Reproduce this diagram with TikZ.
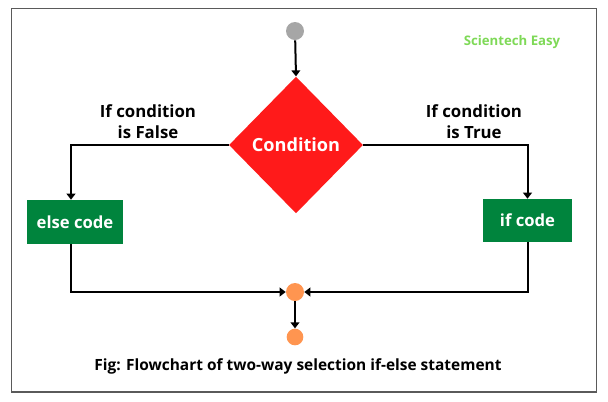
\documentclass[tikz,border=0pt]{standalone}
\usepackage{fontspec}
\setmainfont{Open Sans}
\usetikzlibrary{shapes.geometric,arrows.meta}
\definecolor{condred}{HTML}{FF1A1A}
\definecolor{boxgreen}{HTML}{00843D}
\definecolor{startgray}{HTML}{A6A6A6}
\definecolor{joinorange}{HTML}{FF9550}
\definecolor{brandgreen}{HTML}{7ED957}
\definecolor{framegray}{HTML}{5A5A5A}
\tikzset{
  conn/.style={line width=1.5pt, black},
  arr/.style={conn, -{Triangle[length=4.5pt,width=6.5pt]}},
  codebox/.style={rectangle, fill=boxgreen, text=white, font=\bfseries\fontsize{12.5}{14}\selectfont, inner sep=0pt},
  lbl/.style={align=center, font=\bfseries\fontsize{12.6}{15.5}\selectfont, text=black},
  dot/.style={circle, inner sep=0pt},
}
\begin{document}
\begin{tikzpicture}[x=0.75pt,y=-0.75pt]
\useasboundingbox (0,0) rectangle (608,401);
\draw[framegray, line width=1pt] (11.5,8.5) rectangle (596.5,392);
\node[dot, fill=startgray, minimum size=13.5pt] (g) at (295,31) {};
\node[diamond, fill=condred, inner sep=0pt, minimum width=100.5pt, minimum height=102.5pt, text=white, font=\bfseries\fontsize{13.6}{15}\selectfont] (d) at (296,145) {Condition};
\node[codebox, minimum width=72pt, minimum height=33pt] (else) at (75,222) {else code};
\node[codebox, minimum width=66.75pt, minimum height=32.25pt] (if) at (527.5,220.5) {if code};
\node[dot, fill=joinorange, minimum size=13.5pt] (o1) at (295,292) {};
\node[dot, fill=joinorange, minimum size=12.5pt] (o2) at (295,337) {};
\node[lbl] (lf) at (148,121.5) {If condition\\is False};
\node[lbl] (lt) at (474,121.5) {If condition\\is True};
\node[font=\bfseries\fontsize{9.9}{11}\selectfont, text=brandgreen] (brand) at (512,42) {Scientech Easy};
\node[font=\bfseries\fontsize{11.6}{13}\selectfont, text=black] (cap) at (298,366) {Fig: Flowchart of two-way selection if-else statement};
\draw[arr] (g) -- (d.north);
\draw[arr] (d.west) -| ([xshift=-3pt]else.north);
\draw[arr] (d.east) -| (if.north);
\draw[arr] ([xshift=-3pt]else.south) |- (o1.west);
\draw[arr] (if.south) |- (o1.east);
\draw[arr] (o1) -- (o2);
\end{tikzpicture}
\end{document}
